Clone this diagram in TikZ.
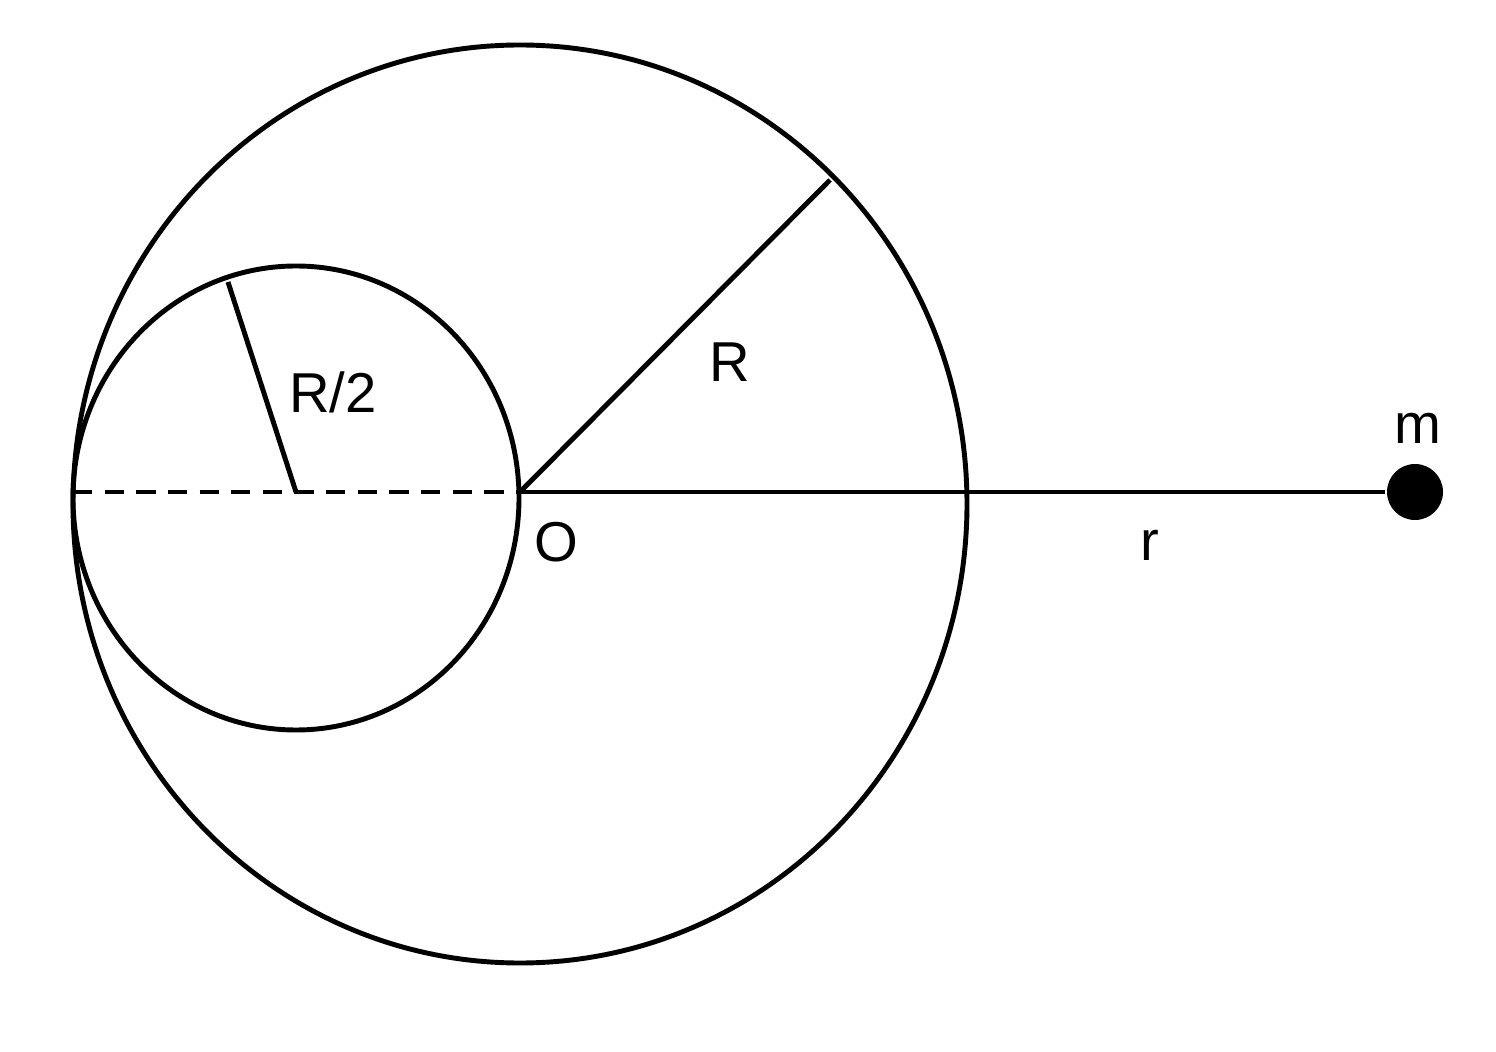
\documentclass[tikz,border=0pt]{standalone}
\usepackage{fontspec}
\setmainfont{Liberation Sans}
\usetikzlibrary{calc}
\begin{document}
\begin{tikzpicture}[line width=1.4pt, font=\fontsize{16}{19}\selectfont]
	\tikzstyle{labelStyle}=[inner sep = 1pt]
	\tikzstyle{massStyle}=[shape = circle, minimum size = 0.56cm, inner sep = 0pt, fill]
	\useasboundingbox (-5.20,-5.59) rectangle (9.76,4.92);
	\coordinate (O) at (0,0);
	\coordinate (c) at (-2.24,0);
	\coordinate (left) at (-4.47,0);
	\draw (0,-0.12) ellipse (4.47 and 4.59);
	\draw (-2.24,-0.06) ellipse (2.23 and 2.32);
	\node[massStyle] (m) at (8.95,0) {};
	\coordinate (rEnd) at (3.10,3.12);
	\coordinate (hEnd) at (-2.92,2.10);
	\draw[dash pattern=on 5.5pt off 3.5pt] (left) -- (O);
	\draw (O) -- (m);
	\draw (O) -- (rEnd);
	\draw (c) -- (hEnd);
	\node[labelStyle] (lR) at (2.10,1.30) {R};
	\node[labelStyle] (lR2) at (-1.87,1.00) {R/2};
	\node[labelStyle] (lO) at (0.36,-0.50) {O};
	\node[labelStyle] (lr) at (6.30,-0.53) {r};
	\node[labelStyle] (lm) at (8.98,0.64) {m};
\end{tikzpicture}
\end{document}
